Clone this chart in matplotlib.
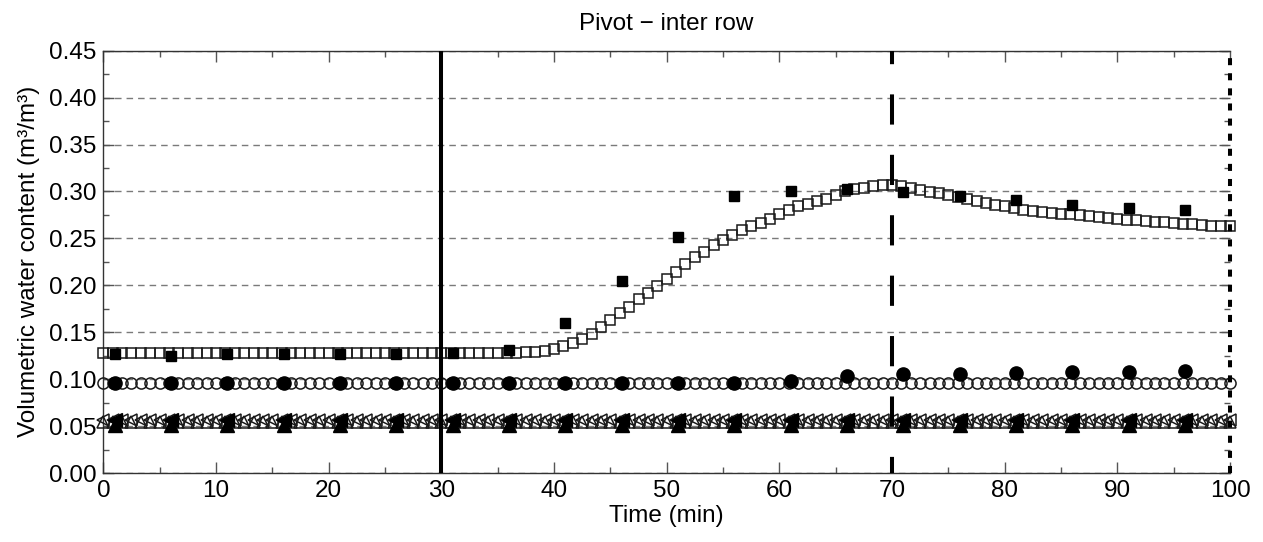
import numpy as np
import matplotlib
matplotlib.use("Agg")
import matplotlib.pyplot as plt
from matplotlib.ticker import MultipleLocator, FormatStrFormatter

plt.rcParams['font.family'] = ['Liberation Sans', 'DejaVu Sans']

# ---------------- data ----------------
title = "Pivot \u2212 inter row"
xlabel = "Time (min)"
ylabel = "Volumetric water content (m\u00b3/m\u00b3)"

# simulated (open markers), one value every 5/6 min from 0 to 100
sim_time = np.linspace(0, 100, 121)
sim_square = [0.1278] * 44 + [
    0.1282, 0.1284, 0.1288, 0.1300, 0.1320, 0.1348, 0.1380, 0.1425, 0.1478, 0.1555,
    0.1626, 0.1700, 0.1774, 0.1849, 0.1923, 0.1997, 0.2070, 0.2140, 0.2228, 0.2297,
    0.2355, 0.2425, 0.2480, 0.2535, 0.2585, 0.2630, 0.2668, 0.2703, 0.2757, 0.2805,
    0.2840, 0.2870, 0.2893, 0.2918, 0.2963, 0.3000, 0.3027, 0.3040, 0.3056, 0.3074,
    0.3074, 0.3060, 0.3035, 0.3015, 0.2998, 0.2980, 0.2960, 0.2940, 0.2920, 0.2898,
    0.2876, 0.2858, 0.2842, 0.2825, 0.2806, 0.2793, 0.2783, 0.2774, 0.2765, 0.2755,
    0.2744, 0.2736, 0.2725, 0.2717, 0.2706, 0.2699, 0.2692, 0.2685, 0.2678, 0.2671,
    0.2664, 0.2656, 0.2649, 0.2642, 0.2635, 0.2632, 0.2628]
sim_circle = [0.0955] * 121
sim_left_tri = [0.0565] * 121
sim_up_tri = [0.0545] * 121

# observed (filled markers)
obs_time = [1, 6, 11, 16, 21, 26, 31, 36, 41, 46, 51, 56, 61, 66, 71, 76, 81, 86, 91, 96]
obs_square = [0.127, 0.125, 0.127, 0.127, 0.127, 0.127, 0.128, 0.131, 0.160, 0.205,
              0.251, 0.295, 0.300, 0.303, 0.299, 0.295, 0.291, 0.286, 0.282, 0.280]
obs_circle = [0.0955, 0.0955, 0.0955, 0.0955, 0.0955, 0.0955, 0.0955, 0.0955, 0.0955, 0.0955,
              0.0955, 0.0955, 0.098, 0.103, 0.105, 0.106, 0.107, 0.108, 0.108, 0.109]
obs_left_tri = [0.056] * 20
obs_up_tri = [0.051] * 20

# event lines
event_solid = 30
event_dashed = 70
event_dotted = 100

xticks = list(range(0, 101, 10))
yticks = [0.00, 0.05, 0.10, 0.15, 0.20, 0.25, 0.30, 0.35, 0.40, 0.45]

# ---------------- figure ----------------
fig = plt.figure(figsize=(12.63, 5.42), dpi=100)
ax = fig.add_axes([0.0818, 0.1273, 0.8921, 0.7792])

FS = 17.5
ec = '#1a1a1a'

# open (simulated)
ax.plot(sim_time, sim_up_tri, ls='none', marker='^', ms=9, mfc='none', mec=ec, mew=1.1, zorder=3, clip_on=False)
ax.plot(sim_time, sim_left_tri, ls='none', marker='<', ms=9, mfc='none', mec=ec, mew=1.1, zorder=3, clip_on=False)
ax.plot(sim_time, sim_circle, ls='none', marker='o', ms=8, mfc='none', mec=ec, mew=1.1, zorder=3, clip_on=False)
ax.plot(sim_time, sim_square, ls='none', marker='s', ms=6.8, mfc='none', mec=ec, mew=1.1, zorder=3, clip_on=False)

# filled (observed)
ax.plot(obs_time, obs_up_tri, ls='none', marker='^', ms=9.5, mfc='black', mec='black', zorder=4)
ax.plot(obs_time, obs_left_tri, ls='none', marker='<', ms=9.5, mfc='black', mec='black', zorder=4)
ax.plot(obs_time, obs_circle, ls='none', marker='o', ms=9.5, mfc='black', mec='black', zorder=4)
ax.plot(obs_time, obs_square, ls='none', marker='s', ms=7, mfc='black', mec='black', zorder=4)

# event lines
ax.axvline(event_solid, color='black', lw=2.9, zorder=5)
ax.axvline(event_dashed, color='black', lw=2.9, ls=(3.5, (7.5, 7.5)), zorder=5)
ax.axvline(event_dotted, color='black', lw=2.9, ls=(0, (1.75, 2.0)), zorder=5, clip_on=False)

ax.set_xlim(0, 100)
ax.set_ylim(0, 0.45)
ax.set_xticks(xticks)
ax.set_yticks(yticks)
ax.xaxis.set_minor_locator(MultipleLocator(5))
ax.yaxis.set_minor_locator(MultipleLocator(0.025))
ax.yaxis.set_major_formatter(FormatStrFormatter('%.2f'))

ax.grid(axis='y', which='major', color='#7a7a7a', lw=1.0, ls=(0, (4.7, 3.6)), zorder=1)

ax.tick_params(which='both', direction='in', top=True, right=True, colors='#555555',
               labelcolor='black', labelsize=FS, width=1.0)
ax.tick_params(which='major', length=8, pad=5)
ax.tick_params(which='minor', length=4)

for s in ['left', 'top', 'bottom']:
    ax.spines[s].set_color('#333333')
    ax.spines[s].set_linewidth(1.0)
ax.spines['right'].set_visible(False)

ax.set_xlabel(xlabel, fontsize=FS, labelpad=2)
ax.set_ylabel(ylabel, fontsize=FS, labelpad=6)
ax.set_title(title, fontsize=FS, pad=15)

fig.savefig('out.png', dpi=100)
